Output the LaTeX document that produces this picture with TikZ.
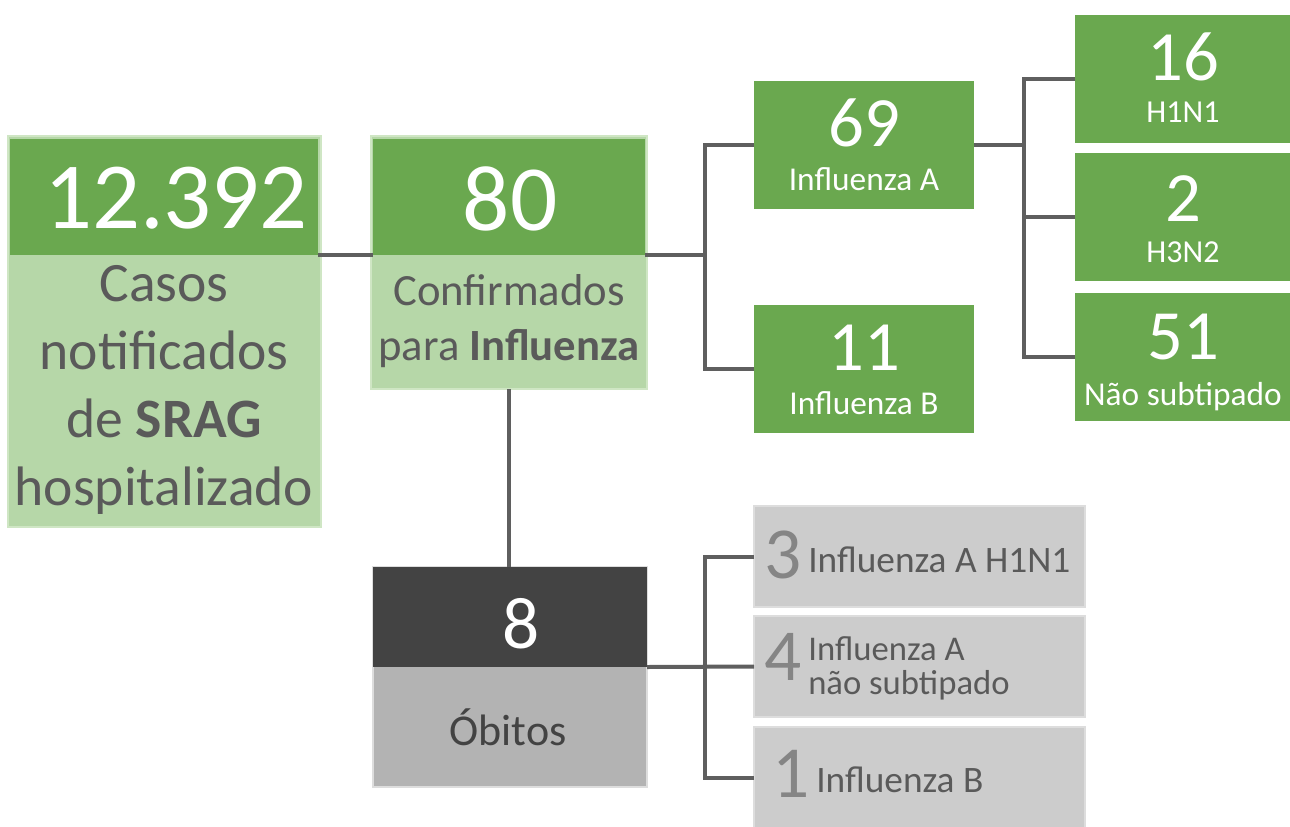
\documentclass[tikz,border=0pt]{standalone}
\usepackage{fontspec}
\setmainfont{Carlito}
\definecolor{dgreen}{HTML}{6AA84F}
\definecolor{lgreen}{HTML}{B6D7A8}
\definecolor{bgreen}{HTML}{CFE6C4}
\definecolor{txtg}{HTML}{5A5A5A}
\definecolor{connc}{HTML}{5F5F5F}
\definecolor{darkbox}{HTML}{434343}
\definecolor{midgray}{HTML}{B3B3B3}
\definecolor{lgray}{HTML}{CCCCCC}
\definecolor{gborder}{HTML}{DDDDDD}
\definecolor{numgray}{HTML}{858585}
\begin{document}
\begin{tikzpicture}[x=0.75pt,y=-0.75pt,
  blk/.style={rectangle,inner sep=0pt,outer sep=0pt,anchor=north west},
  wh/.style 2 args={minimum width=#1*0.75pt,minimum height=#2*0.75pt},
  greenbox/.style={blk,fill=dgreen},
  graybox/.style={blk,fill=lgray,draw=gborder,line width=1pt},
  num/.style={text=white,anchor=base,inner sep=0pt},
  lbl/.style={text=txtg,inner sep=0pt},
  sub/.style={text=white,anchor=base,inner sep=0pt,font=\fontsize{25}{30}\selectfont},
  gnum/.style={text=numgray,anchor=base west,inner sep=0pt,font=\fontsize{55}{60}\selectfont},
  gtxt/.style={text=txtg,anchor=base west,inner sep=0pt,font=\fontsize{28}{32}\selectfont},
  conn/.style={draw=connc,line width=3pt}
]
\useasboundingbox (0,0) rectangle (1290,826);

% Box 1
\node[blk,wh={313}{391},fill=lgreen,draw=bgreen,line width=2pt] (c1) at (8,136) {};
\node[greenbox,wh={308}{116}] (c1t) at (10,139) {};
\node[num,font=\fontsize{71}{80}\selectfont] (c1n) at (176,228) {12.392};
\node[lbl,align=center,font=\fontsize{41.7}{51}\selectfont] (c1l) at (164,390) {Casos\\notificados\\de \textbf{SRAG}\\hospitalizado};

% Box 2
\node[blk,wh={276}{253},fill=lgreen,draw=bgreen,line width=2pt] (c2) at (371,136) {};
\node[greenbox,wh={272}{116}] (c2t) at (373,139) {};
\node[num,font=\fontsize{70}{80}\selectfont] (c2n) at (510,230) {80};
\node[lbl,align=center,font=\fontsize{33.5}{41}\selectfont] (c2l) at (509,321) {Confirmados\\para \textbf{Influenza}};

% Influenza A / B
\node[greenbox,wh={220}{128}] (ba) at (754,81) {};
\node[num,font=\fontsize{53}{60}\selectfont] (ban) at (864,146) {69};
\node[sub] (bal) at (864,190) {Influenza A};
\node[greenbox,wh={220}{128}] (bb) at (754,305) {};
\node[num,font=\fontsize{53}{60}\selectfont] (bbn) at (864,370) {11};
\node[sub] (bbl) at (864,414) {Influenza B};

% Subtypes
\node[greenbox,wh={215}{128}] (s1) at (1075,15) {};
\node[num,font=\fontsize{53}{60}\selectfont] (s1n) at (1183,80) {16};
\node[sub,font=\fontsize{24}{28}\selectfont] (s1l) at (1183,122) {H1N1};
\node[greenbox,wh={215}{128}] (s2) at (1075,153) {};
\node[num,font=\fontsize{53}{60}\selectfont] (s2n) at (1183,221) {2};
\node[sub,font=\fontsize{24}{28}\selectfont] (s2l) at (1183,262) {H3N2};
\node[greenbox,wh={215}{128}] (s3) at (1075,293) {};
\node[num,font=\fontsize{53}{60}\selectfont] (s3n) at (1183,359) {51};
\node[sub] (s3l) at (1183,405) {Não subtipado};

% Obitos
\node[blk,wh={274}{220},fill=midgray,draw=gborder,line width=1pt] (d8) at (373,567) {};
\node[blk,wh={274}{100},fill=darkbox] (d8t) at (373,567) {};
\node[num,font=\fontsize{55}{60}\selectfont] (d8n) at (521,648) {8};
\node[lbl,anchor=base,text=darkbox,font=\fontsize{33}{40}\selectfont] (d8l) at (508,745) {Óbitos};

% Gray boxes
\node[graybox,wh={331}{101}] (g3) at (754,506) {};
\node[gnum] (g3n) at (764,578) {3};
\node[gtxt] (g3l) at (808,572) {Influenza A H1N1};
\node[graybox,wh={331}{101}] (g4) at (754,616) {};
\node[gnum] (g4n) at (764,680) {4};
\node[gtxt,font=\fontsize{26}{30}\selectfont] (g4l) at (808,660) {Influenza A};
\node[gtxt,font=\fontsize{26}{30}\selectfont] (g4m) at (808,694) {não subtipado};
\node[graybox,wh={331}{101}] (g1) at (754,727) {};
\node[gnum] (g1n) at (772,797) {1};
\node[gtxt] (g1l) at (816,792) {Influenza B};

% Connectors
\coordinate (j1) at (705,256);
\coordinate (j2) at (1024,145);
\coordinate (j3) at (705,667);
\draw[conn] (c1t.south east) -- (c2t.south west);
\draw[conn] (c2t.south east) -- (c2t.south east -| j1);
\draw[conn] (ba.west) -| (j1);
\draw[conn] (bb.west) -| (j1);
\draw[conn] (ba.east) -- (j2);
\draw[conn] (s1.west) -| (j2);
\draw[conn] (s2.west) -| (j2);
\draw[conn] (s3.west) -| (j2);
\draw[conn] (c2.south) -- (c2.south |- d8t.north);
\draw[conn] (d8t.south east) -- (g4.west);
\draw[conn] (g3.west) -| (j3);
\draw[conn] (g1.west) -| (j3);
\end{tikzpicture}
\end{document}
